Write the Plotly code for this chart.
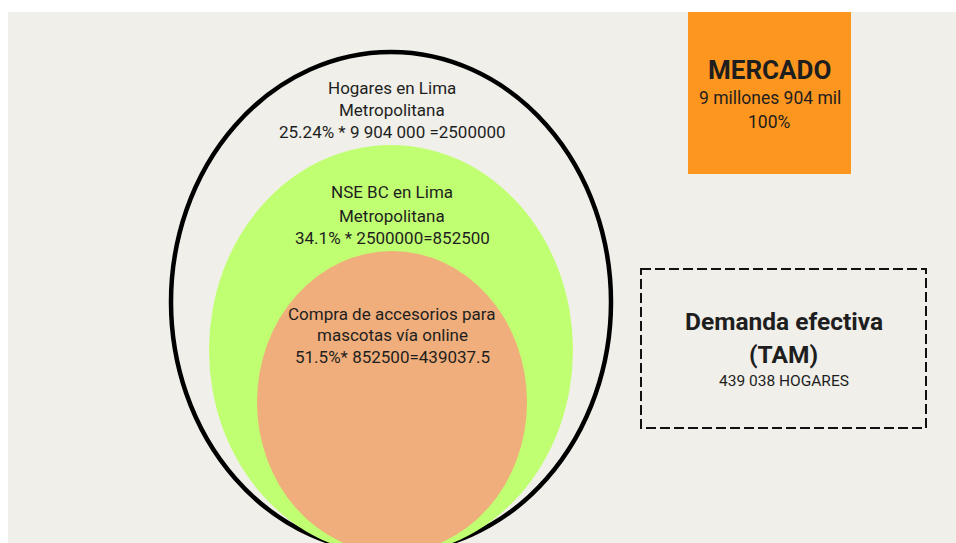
import plotly.graph_objects as go

# ---- data ----
market_total = "9 904 000"
level_names = ["Hogares en Lima<br>Metropolitana", "NSE BC en Lima<br>Metropolitana",
               "Compra de accesorios para<br>mascotas vía online"]
level_formulas = ["25.24% * 9 904 000 =2500000", "34.1% * 2500000=852500",
                  "51.5%* 852500=439037.5"]
market_title = "MERCADO"
market_lines = ["9 millones 904 mil", "100%"]
tam_title = ["Demanda efectiva", "(TAM)"]
tam_value = "439 038 HOGARES"

# ---- geometry (page-pixel space of the 956x543 canvas) ----
W, H = 956, 543
ell_cx = [391, 391, 392]
ell_cy = [302, 350, 402]
ell_rx = [220, 182, 135]
ell_ry = [250, 205, 151]

BG = "#F0EFE9"
GREEN = "#C1FF72"
ORANGE_E = "#EFAE7B"
ORANGE_BOX = "#FD961E"
TXT = "#1E1E1E"
FONT = "Roboto"

shapes = [
    dict(type="rect", x0=8, x1=W, y0=12, y1=H, fillcolor=BG, line=dict(width=0), layer="below"),
    dict(type="rect", x0=688, x1=851, y0=12, y1=174, fillcolor=ORANGE_BOX, line=dict(width=0)),
    dict(type="rect", x0=641, x1=926, y0=269, y1=428, fillcolor="rgba(0,0,0,0)",
         line=dict(color="#111111", width=2, dash="10px,4px")),
    dict(type="circle", x0=ell_cx[0]-ell_rx[0], x1=ell_cx[0]+ell_rx[0],
         y0=ell_cy[0]-ell_ry[0], y1=ell_cy[0]+ell_ry[0],
         fillcolor="rgba(0,0,0,0)", line=dict(color="#000000", width=4.5)),
    dict(type="circle", x0=ell_cx[1]-ell_rx[1], x1=ell_cx[1]+ell_rx[1],
         y0=ell_cy[1]-ell_ry[1], y1=ell_cy[1]+ell_ry[1],
         fillcolor=GREEN, line=dict(width=0)),
    dict(type="circle", x0=ell_cx[2]-ell_rx[2], x1=ell_cx[2]+ell_rx[2],
         y0=ell_cy[2]-ell_ry[2], y1=ell_cy[2]+ell_ry[2],
         fillcolor=ORANGE_E, line=dict(width=0)),
]

annotations = []

def txt(x, y, s, size, bold=False):
    annotations.append(dict(
        x=x, y=y, xref="x", yref="y", text=f"<b>{s}</b>" if bold else s,
        showarrow=False, xanchor="center", yanchor="middle",
        font=dict(family=FONT, size=size, color=TXT)))

# ellipse labels (one annotation per line)
label_y = [[87.5, 109.5, 131.5], [191.5, 215.5, 237.5], [313.5, 334.5, 356.5]]
for i in range(3):
    l1, l2 = level_names[i].split("<br>")
    for s, y in zip([l1, l2, level_formulas[i]], label_y[i]):
        txt(392, y, s, 17)

# market box
txt(769.5, 70, market_title, 26, bold=True)
txt(769.5, 98, market_lines[0], 17.5)
txt(769.5, 121.5, market_lines[1], 17.5)

# TAM box
txt(783.5, 321, tam_title[0], 24.5, bold=True)
txt(783.5, 354.5, tam_title[1], 24.5, bold=True)
txt(783.5, 380.5, tam_value, 15.5)

fig = go.Figure()
fig.add_trace(go.Scatter(x=[0], y=[0], mode="markers", marker=dict(opacity=0),
                         hoverinfo="skip", showlegend=False))
fig.update_layout(
    width=W, height=H, margin=dict(l=0, r=0, t=0, b=0),
    paper_bgcolor="white", plot_bgcolor="white",
    shapes=shapes, annotations=annotations, showlegend=False,
    xaxis=dict(range=[0, W], visible=False, fixedrange=True),
    yaxis=dict(range=[H, 0], visible=False, fixedrange=True),
)
fig.write_html("out.html", config={"displayModeBar": False},
               post_script="document.body.style.margin='0';document.body.style.overflow='hidden';")
